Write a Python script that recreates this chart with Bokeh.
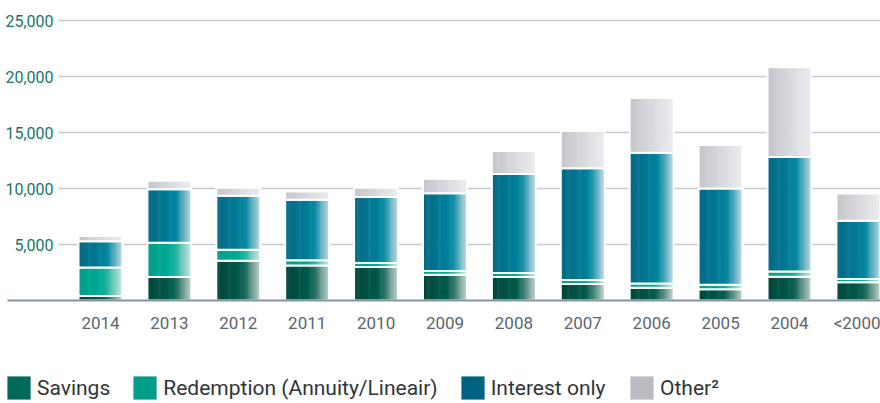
import numpy as np
from bokeh.plotting import figure
from bokeh.models import Range1d, FixedTicker, Legend, LegendItem, ColumnDataSource
from bokeh.embed import file_html
from bokeh.resources import INLINE

# ---------------- data ----------------
years = ["2014", "2013", "2012", "2011", "2010", "2009", "2008", "2007", "2006", "2005", "2004", "<2000"]
savings = [400, 2100, 3560, 3120, 3000, 2310, 2100, 1480, 1130, 1000, 2110, 1630]
redemption = [2550, 3050, 970, 470, 350, 330, 360, 360, 380, 400, 470, 300]
interest_only = [2350, 4780, 4820, 5400, 5880, 6940, 8840, 9960, 11690, 8590, 10230, 5190]
other = [450, 770, 710, 740, 830, 1280, 2050, 3330, 4870, 3890, 8020, 2430]
series_names = ["Savings", "Redemption (Annuity/Lineair)", "Interest only", "Other\u00b2"]
y_ticks = [5000, 10000, 15000, 20000, 25000]
y_tick_labels = ["5,000", "10,000", "15,000", "20,000", "25,000"]

# ---------------- style ----------------
FONT = "Roboto"
legend_colors = ["#006b5b", "#009e89", "#006480", "#babcc1"]
gradients = [
    [(0.0, "#00463a"), (0.55, "#005a4b"), (0.70, "#2e7468"), (1.0, "#c4d4ce")],
    [(0.0, "#009e88"), (0.55, "#00ac96"), (0.70, "#3cb8a6"), (1.0, "#cdebe5")],
    [(0.0, "#066884"), (0.55, "#007f99"), (0.68, "#0a8aa2"), (1.0, "#c3dbe6")],
    [(0.0, "#c3c5ca"), (1.0, "#ebecef")],
]


def hex2rgb(h):
    h = h.lstrip("#")
    return np.array([int(h[i:i + 2], 16) for i in (0, 2, 4)], dtype=float)


def grad_color(stops, t):
    for (p0, c0), (p1, c1) in zip(stops[:-1], stops[1:]):
        if p0 <= t <= p1:
            f = (t - p0) / (p1 - p0)
            c = hex2rgb(c0) * (1 - f) + hex2rgb(c1) * f
            return "#%02x%02x%02x" % tuple(int(round(v)) for v in c)
    return stops[-1][1]


W, H = 880, 403
UNIT = 68.9          # px per category
FIRST_CENTER = 100   # px from frame left
BAR_W = 44 / UNIT
x_start = -FIRST_CENTER / UNIT
x_end = x_start + W / UNIT
PX_PER_VAL = 280 / 25000     # 25,000 spans 280 px
ZERO_PX = 300                # baseline, px from top
y_top = ZERO_PX / PX_PER_VAL
y_bottom = -(H - ZERO_PX) / PX_PER_VAL

p = figure(width=W, height=H, output_backend="svg", toolbar_location=None,
           x_range=Range1d(x_start, x_end), y_range=Range1d(y_bottom, y_top),
           min_border_left=0, min_border_right=0, min_border_top=0, min_border_bottom=0)
p.outline_line_color = None
p.xgrid.visible = False
p.ygrid.visible = False
p.background_fill_color = "white"
p.border_fill_color = "white"

idx = np.arange(len(years))

# grid lines (start right of the value labels)
gx0 = x_start + 58 / UNIT
p.segment(x0=[gx0] * len(y_ticks), y0=y_ticks, x1=[x_end] * len(y_ticks), y1=y_ticks,
          line_color="#c3c9cf", line_width=1.4)

# stacked bars with horizontal gradient
series = [savings, redemption, interest_only, other]
bottom = np.zeros(len(years))
N = 40
legend_renderers = []
for s, vals in enumerate(series):
    top = bottom + np.array(vals, dtype=float)
    xs, bs, ts, cs = [], [], [], []
    for k in range(N):
        t = (k + 0.5) / N
        col = grad_color(gradients[s], t)
        xs.extend(idx - BAR_W / 2 + t * BAR_W)
        bs.extend(bottom)
        ts.extend(top)
        cs.extend([col] * len(years))
    src = ColumnDataSource(dict(x=xs, bottom=bs, top=ts, color=cs))
    p.vbar(x="x", bottom="bottom", top="top", width=BAR_W / N * 1.5, source=src,
           fill_color="color", line_color=None)
    p.vbar(x=idx, bottom=bottom, top=top, width=BAR_W, fill_alpha=0,
           line_color="white", line_width=2)
    # legend swatch renderer (zero-height bar, only used for the legend)
    r = p.vbar(x=[0], bottom=[0], top=[0], width=BAR_W, fill_color=legend_colors[s],
               line_color=None)
    legend_renderers.append(r)
    bottom = top

# baseline
p.segment(x0=[x_start + 7 / UNIT], y0=[0], x1=[x_end], y1=[0],
          line_color="#8593a0", line_width=2)

# x axis drawn at value 0 (labels only)
xa = p.xaxis[0]
xa.fixed_location = 0
xa.ticker = FixedTicker(ticks=list(idx))
xa.major_label_overrides = {int(i): y for i, y in enumerate(years)}
xa.major_tick_line_color = None
xa.minor_tick_line_color = None
xa.major_tick_out = 0
xa.major_tick_in = 0
xa.major_label_standoff = 12
xa.axis_line_color = None
xa.major_label_text_font = FONT
xa.major_label_text_font_size = "17px"
xa.major_label_text_color = "#5b6670"

# y axis: labels only, placed left of the grid lines
ya = p.yaxis[0]
ya.fixed_location = gx0
ya.ticker = FixedTicker(ticks=y_ticks)
ya.major_label_overrides = {t: l for t, l in zip(y_ticks, y_tick_labels)}
ya.axis_line_color = None
ya.major_tick_line_color = None
ya.minor_tick_line_color = None
ya.major_tick_out = 0
ya.major_tick_in = 0
ya.major_label_standoff = 5
ya.major_label_text_font = FONT
ya.major_label_text_font_size = "16px"
ya.major_label_text_color = "#17766a"


def make_legend(items, loc):
    return Legend(items=items, location=loc, orientation="horizontal",
                  glyph_width=29, glyph_height=29, label_height=37,
                  label_standoff=4, spacing=20,
                  padding=0, margin=0, border_line_alpha=0, background_fill_alpha=0,
                  label_text_font=FONT, label_text_font_size="21px",
                  label_text_color="#2f3539")


items1 = [LegendItem(label=series_names[i], renderers=[legend_renderers[i]]) for i in range(3)]
items2 = [LegendItem(label=series_names[3], renderers=[legend_renderers[3]])]
p.add_layout(make_legend(items1, (4, -3)))
p.add_layout(make_legend(items2, (627, -3)))

open("out.html", "w").write(file_html(p, INLINE))
